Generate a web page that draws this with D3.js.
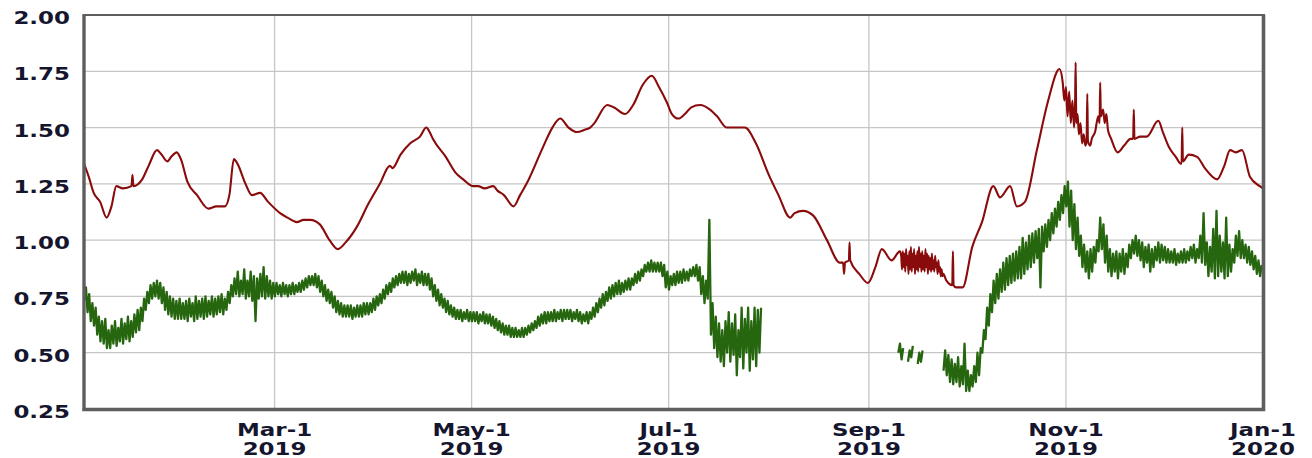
<!DOCTYPE html>
<html>
<head>
<meta charset="utf-8">
<script src="https://cdn.jsdelivr.net/npm/d3@7"></script>
<style>
  html, body { margin: 0; padding: 0; background: #ffffff; }
  svg { display: block; }
</style>
</head>
<body>
<svg id="chart" width="1312" height="458"></svg>
<script>
// ---- data -------------------------------------------------------------
// y axis ticks
const yTicks = [0.25, 0.50, 0.75, 1.00, 1.25, 1.50, 1.75, 2.00];

// x axis ticks (first of every other month) and their two-line labels
const xTickDates = ["2019-03-01", "2019-05-01", "2019-07-01", "2019-09-01", "2019-11-01", "2020-01-01"];
const xTickMonth = ["Mar-1", "May-1", "Jul-1", "Sep-1", "Nov-1", "Jan-1"];
const xTickYear  = ["2019", "2019", "2019", "2019", "2019", "2020"];

// upper series: [days since 2019-01-01, value]
const redPoints = [
  [0,1.34],[1.5,1.28],[3,1.21],[5,1.17],[7,1.10],[8.5,1.15],[10,1.24],[12,1.23],[14.7,1.24],[15,1.29],[15.3,1.24],
  [18,1.27],[20,1.33],[22.6,1.40],[24,1.38],[25.8,1.35],[27,1.37],[28.7,1.39],[30,1.36],[32,1.26],[35,1.20],
  [38.5,1.14],[41,1.15],[43.6,1.15],[45,1.20],[46.4,1.36],[47.5,1.34],[50,1.25],[52,1.20],[54.5,1.21],[57,1.17],
  [60.7,1.12],[63,1.10],[65.9,1.08],[68,1.09],[70,1.09],[73,1.07],[76,1.00],[78.6,0.96],[81,0.99],[84.5,1.06],
  [88,1.16],[91.6,1.25],[94.7,1.33],[95.5,1.32],[98,1.38],[101,1.43],[104,1.46],[106,1.50],[107,1.48],[108,1.45],
  [112,1.37],[115,1.30],[117.4,1.27],[120.5,1.24],[122,1.24],[124,1.23],[126.7,1.24],[128,1.22],[130,1.20],
  [133,1.15],[135,1.20],[137,1.25],[142,1.41],[145,1.50],[147.4,1.54],[150,1.50],[152.6,1.48],[155,1.49],
  [156.7,1.50],[158,1.52],[162,1.60],[164,1.59],[167.5,1.56],[170,1.60],[173,1.69],[175.8,1.73],[178,1.68],
  [180.5,1.61],[182,1.56],[184,1.54],[186,1.56],[188,1.59],[190.7,1.60],[193.8,1.58],[196,1.55],[199,1.50],
  [202,1.50],[204.6,1.50],[208,1.43],[212,1.29],[215,1.20],[218.6,1.10],[220,1.12],[222.6,1.13],[225.7,1.11],
  [230,1.00],[234,0.90],[235,0.90],[235.3,0.85],[235.6,0.90],[236.8,0.91],[237,0.99],[237.2,0.91],[240,0.85],
  [242.7,0.81],[245,0.88],[247,0.96],[250,0.91],[252.6,0.95],
  [253,0.93],[253.25,0.87],[253.5,0.95],[253.75,0.88],[254,0.94],[254.25,0.86],[254.5,0.96],[254.75,0.89],
  [255,0.93],[255.25,0.85],[255.5,0.95],[255.75,0.87],[256,0.97],[256.25,0.86],[256.5,0.94],[256.75,0.88],
  [257,0.96],[257.25,0.85],[257.5,0.93],[257.75,0.87],[258,0.95],[258.25,0.86],[258.5,0.97],[258.75,0.88],
  [259,0.94],[259.25,0.86],[259.5,0.95],[259.75,0.87],[260,0.93],[260.25,0.86],[260.5,0.96],[260.75,0.88],
  [261,0.94],[261.25,0.85],[261.5,0.93],[261.75,0.87],[262,0.92],[262.25,0.86],[262.5,0.94],[262.75,0.87],
  [263,0.91],[263.25,0.86],[263.5,0.93],[263.75,0.88],[264,0.90],[264.25,0.85],[264.5,0.91],[264.75,0.86],
  [265,0.88],[265.25,0.84],[265.5,0.87],[265.75,0.84],[266,0.85],
  [267,0.82],[268.8,0.80],[269,0.95],[269.2,0.80],[270,0.79],[272,0.79],[275,0.97],[278,1.08],[281.5,1.24],
  [283.6,1.19],[286.7,1.24],[288.8,1.15],[291.3,1.17],[295,1.40],[298.5,1.62],[302,1.76],
  [303,1.70],[303.5,1.62],[304,1.68],[304.5,1.55],[305,1.66],[305.5,1.52],[306,1.62],[306.5,1.50],[306.8,1.58],
  [307,1.79],[307.2,1.52],[307.6,1.56],[308,1.47],[308.5,1.52],[309,1.43],[309.5,1.47],[310,1.42],[310.4,1.44],
  [310.6,1.65],[310.8,1.44],[311.5,1.42],[312,1.45],[313,1.48],[314,1.55],[314.4,1.52],[314.6,1.70],[314.8,1.55],
  [315.5,1.58],[316,1.52],[316.5,1.56],[317,1.49],
  [318,1.45],[320,1.39],[322,1.42],[324,1.45],[324.8,1.45],[325,1.58],[325.2,1.45],[327,1.46],[329,1.46],
  [332.6,1.53],[334,1.48],[336,1.41],[338,1.37],[339.5,1.34],[339.8,1.34],[340,1.50],[340.2,1.35],[342,1.38],
  [344.6,1.37],[347,1.32],[350.8,1.27],[353,1.33],[354.8,1.40],[356.5,1.39],[358.5,1.40],[361,1.28],[364,1.24],
  [365,1.23]
];

// lower series: daily low and high of the readings from 2019-01-01 (null = no data)
const greenLow = [
  // Jan
  0.73,0.68,0.64,0.62,0.58,0.55,0.54,0.52,0.52,0.54, 0.53,0.55,0.54,0.56,0.55,0.57,0.59,0.60,0.64,0.69,
  0.72,0.74,0.75,0.74,0.72,0.69,0.67,0.66,0.65,0.65, 0.65,
  // Feb
  0.65,0.64,0.66,0.64,0.65,0.66,0.65,0.66,0.67, 0.66,0.67,0.68,0.67,0.69,0.72,0.75,0.76,0.75,0.76,
  0.74,0.75,0.73,0.64,0.74,0.75,0.74,0.75,0.74,
  // Mar
  0.75,0.76,0.75,0.76,0.75,0.76,0.76,0.77,0.77,0.78, 0.79,0.80,0.80,0.79,0.77,0.75,0.73,0.72,0.70,0.68,
  0.67,0.66,0.66,0.66,0.65,0.66,0.66,0.66,0.67,0.67, 0.68,
  // Apr
  0.69,0.71,0.72,0.74,0.76,0.77,0.79,0.80,0.81,0.81, 0.80,0.81,0.82,0.80,0.81,0.80,0.80,0.78,0.75,0.73,
  0.71,0.70,0.68,0.67,0.66,0.65,0.65,0.64,0.65,0.64,
  // May
  0.64,0.64,0.63,0.64,0.63,0.63,0.62,0.61,0.60,0.59, 0.58,0.58,0.57,0.57,0.57,0.57,0.57,0.58,0.59,0.60,
  0.61,0.62,0.63,0.63,0.64,0.64,0.64,0.65,0.64,0.65, 0.65,
  // Jun
  0.64,0.65,0.64,0.63,0.64,0.63,0.65,0.66,0.68,0.70, 0.71,0.73,0.74,0.75,0.76,0.76,0.77,0.78,0.78,0.80,
  0.81,0.82,0.84,0.86,0.86,0.86,0.86,0.86,0.84,0.79,
  // Jul
  0.78,0.80,0.80,0.81,0.81,0.82,0.82,0.84,0.84,0.82, 0.76,0.72,0.74,0.58,0.52,0.48,0.46,0.44,0.50,0.46,
  0.49,0.40,0.48,0.43,0.50,0.42,0.47,0.44,0.50,null, null,
  // Aug
  null,null,null,null,null,null,null,null,null,null, null,null,null,null,null,null,null,null,null,null,
  null,null,null,null,null,null,null,null,null,null, null,
  // Sep
  null,null,null,null,null,null,null,null,null,0.50, 0.47,null,0.46,0.48,null,0.45,0.46,null,null,null,
  null,null,null,0.42,0.40,0.37,0.36,0.37,0.35,0.36,
  // Oct
  0.33,0.33,0.35,0.37,0.40,0.50,0.56,0.62,0.68,0.72, 0.74,0.77,0.78,0.80,0.81,0.82,0.83,0.83,0.85,0.87,
  0.88,0.90,0.92,0.79,0.95,0.97,1.00,1.03,1.06,1.09, 1.12,
  // Nov
  1.15,1.06,1.00,0.96,0.93,0.88,0.86,0.83,0.86,0.90, 0.95,0.96,0.90,0.86,0.84,0.86,0.83,0.86,0.85,0.88,
  0.92,0.94,0.93,0.91,0.88,0.90,0.86,0.88,0.91,0.90,
  // Dec
  0.91,0.90,0.90,0.90,0.89,0.90,0.90,0.90,0.91,0.92, 0.90,0.92,0.90,0.89,0.84,0.86,0.83,0.84,0.86,0.83,
  0.84,0.86,0.90,0.93,0.92,0.92,0.90,0.89,0.87,0.85, 0.84
];
const greenHigh = [
  // Jan
  0.79,0.76,0.72,0.70,0.66,0.64,0.65,0.60,0.62,0.64, 0.61,0.65,0.63,0.66,0.64,0.67,0.69,0.70,0.74,0.77,
  0.80,0.81,0.82,0.81,0.79,0.77,0.75,0.74,0.73,0.74, 0.72,
  // Feb
  0.73,0.74,0.72,0.75,0.73,0.74,0.75,0.73,0.75, 0.74,0.75,0.76,0.74,0.77,0.80,0.83,0.86,0.82,0.87,
  0.82,0.86,0.84,0.83,0.85,0.88,0.84,0.82,0.81,
  // Mar
  0.81,0.80,0.81,0.80,0.80,0.81,0.80,0.81,0.82,0.83, 0.84,0.84,0.85,0.84,0.82,0.80,0.78,0.77,0.75,0.73,
  0.72,0.71,0.71,0.71,0.70,0.71,0.71,0.72,0.72,0.72, 0.74,
  // Apr
  0.75,0.76,0.78,0.80,0.81,0.83,0.84,0.85,0.86,0.86, 0.85,0.86,0.87,0.85,0.86,0.85,0.85,0.83,0.80,0.78,
  0.76,0.74,0.73,0.71,0.70,0.69,0.69,0.68,0.69,0.68,
  // May
  0.68,0.68,0.67,0.68,0.67,0.67,0.66,0.65,0.64,0.63, 0.62,0.62,0.61,0.61,0.60,0.61,0.61,0.62,0.63,0.64,
  0.66,0.67,0.68,0.68,0.68,0.69,0.68,0.69,0.69,0.69, 0.69,
  // Jun
  0.68,0.69,0.68,0.67,0.68,0.68,0.70,0.72,0.74,0.76, 0.77,0.79,0.80,0.81,0.82,0.81,0.82,0.83,0.83,0.85,
  0.86,0.87,0.89,0.90,0.91,0.90,0.90,0.90,0.89,0.86,
  // Jul
  0.84,0.85,0.86,0.86,0.87,0.86,0.87,0.88,0.89,0.88, 0.84,0.82,1.09,0.72,0.66,0.63,0.60,0.64,0.68,0.63,
  0.67,0.60,0.70,0.65,0.70,0.64,0.70,0.69,0.70,null, null,
  // Aug
  null,null,null,null,null,null,null,null,null,null, null,null,null,null,null,null,null,null,null,null,
  null,null,null,null,null,null,null,null,null,null, null,
  // Sep
  null,null,null,null,null,null,null,null,null,0.54, 0.52,null,0.51,0.53,null,0.50,0.51,null,null,null,
  null,null,null,0.51,0.49,0.47,0.45,0.48,0.44,0.54,
  // Oct
  0.42,0.40,0.44,0.50,0.52,0.60,0.70,0.76,0.82,0.85, 0.87,0.90,0.92,0.93,0.94,0.95,0.97,1.01,0.99,1.02,
  1.03,1.04,1.05,1.06,1.07,1.09,1.12,1.14,1.17,1.20, 1.24,
  // Nov
  1.26,1.22,1.16,1.10,1.02,0.98,0.95,0.96,0.97,1.00, 1.10,1.07,1.02,0.96,0.94,0.95,0.94,0.96,0.94,0.98,
  1.00,1.02,1.00,0.99,0.97,0.98,0.96,0.97,0.99,0.98,
  // Dec
  0.97,0.96,0.95,0.96,0.94,0.95,0.96,0.95,0.97,0.98, 0.96,1.02,1.12,0.99,0.97,1.05,1.13,1.02,0.99,1.10,
  0.98,0.96,1.02,1.04,1.00,0.98,0.97,0.95,0.93,0.91, 0.89
];

// ---- layout -----------------------------------------------------------
const plot = { left: 84, right: 1263, top: 15, bottom: 409 };
const dayMs = 864e5;
const start = Date.UTC(2019, 0, 1);
const toDate = d => new Date(start + d * dayMs);

const x = d3.scaleUtc()
  .domain([new Date(start), new Date(Date.UTC(2020, 0, 1))])
  .range([plot.left, plot.right]);
const y = d3.scaleLinear()
  .domain([0.25, 2.00])
  .range([plot.bottom, plot.top]);

const svg = d3.select("#chart");
const textColor = "#15152e";
const stretch = 1.35;   // wide, horizontally stretched lettering

svg.append("defs").append("clipPath").attr("id", "plotClip")
  .append("rect")
  .attr("x", plot.left).attr("y", plot.top)
  .attr("width", plot.right - plot.left).attr("height", plot.bottom - plot.top);

// grid
const grid = svg.append("g").attr("class", "grid");
grid.selectAll("line.h").data(yTicks).join("line")
  .attr("class", "h")
  .attr("x1", plot.left).attr("x2", plot.right)
  .attr("y1", d => y(d)).attr("y2", d => y(d))
  .attr("stroke", "#c6c6c6").attr("stroke-width", 1.3);
grid.selectAll("line.v").data(xTickDates).join("line")
  .attr("class", "v")
  .attr("x1", d => x(new Date(d + "T00:00:00Z"))).attr("x2", d => x(new Date(d + "T00:00:00Z")))
  .attr("y1", plot.top).attr("y2", plot.bottom)
  .attr("stroke", "#c6c6c6").attr("stroke-width", 1.3);

// series
const lines = svg.append("g").attr("clip-path", "url(#plotClip)");

const redLine = d3.line()
  .x(d => x(toDate(d[0])))
  .y(d => y(d[1]))
  .curve(d3.curveMonotoneX);
lines.append("path")
  .datum(redPoints)
  .attr("d", redLine)
  .attr("fill", "none")
  .attr("stroke", "#8a0b0b")
  .attr("stroke-width", 2.1)
  .attr("stroke-linejoin", "round");

// the lower readings swing quickly within each day: trace each day's low, then its high
const greenTrace = greenLow.flatMap((lo, i) => [
  { t: i + 0.1, v: lo },
  { t: i + 0.6, v: greenHigh[i] }
]);
const greenLine = d3.line()
  .defined(d => d.v != null)
  .x(d => x(toDate(d.t)))
  .y(d => y(d.v));
lines.append("path")
  .datum(greenTrace)
  .attr("d", greenLine)
  .attr("fill", "none")
  .attr("stroke", "#26660f")
  .attr("stroke-width", 2.3)
  .attr("stroke-linejoin", "round");

// frame
const frame = svg.append("g").attr("stroke", "#5e5e5e").attr("fill", "none");
frame.append("line").attr("x1", plot.left - 1.5).attr("x2", plot.right + 2)
  .attr("y1", plot.top).attr("y2", plot.top).attr("stroke-width", 2);
frame.append("line").attr("x1", plot.left).attr("x2", plot.left)
  .attr("y1", plot.top).attr("y2", plot.bottom + 2).attr("stroke-width", 3.4);
frame.append("line").attr("x1", plot.right + 0.5).attr("x2", plot.right + 0.5)
  .attr("y1", plot.top).attr("y2", plot.bottom + 2).attr("stroke-width", 3.6);
frame.append("line").attr("x1", plot.left - 1.5).attr("x2", plot.right + 2)
  .attr("y1", plot.bottom + 0.5).attr("y2", plot.bottom + 0.5).attr("stroke-width", 3.6);

// y labels
svg.append("g").selectAll("text").data(yTicks).join("text")
  .attr("transform", d => `translate(70,${y(d) + 9}) scale(${stretch},1)`)
  .attr("text-anchor", "end")
  .attr("font-family", "DejaVu Sans, Verdana, sans-serif")
  .attr("font-weight", "bold")
  .attr("font-size", 17)
  .attr("fill", textColor)
  .text(d => d.toFixed(2));

// x labels (two lines)
const xl = svg.append("g").selectAll("g").data(xTickDates).join("g")
  .attr("transform", d => `translate(${x(new Date(d + "T00:00:00Z"))},0)`);
xl.append("text")
  .attr("transform", `translate(0,436) scale(${stretch},1)`)
  .attr("text-anchor", "middle")
  .attr("font-family", "DejaVu Sans, Verdana, sans-serif")
  .attr("font-weight", "bold")
  .attr("font-size", 17)
  .attr("fill", textColor)
  .text((d, i) => xTickMonth[i]);
xl.append("text")
  .attr("transform", `translate(0,455) scale(${stretch},1)`)
  .attr("text-anchor", "middle")
  .attr("font-family", "DejaVu Sans, Verdana, sans-serif")
  .attr("font-weight", "bold")
  .attr("font-size", 17)
  .attr("fill", textColor)
  .text((d, i) => xTickYear[i]);
</script>
</body>
</html>
